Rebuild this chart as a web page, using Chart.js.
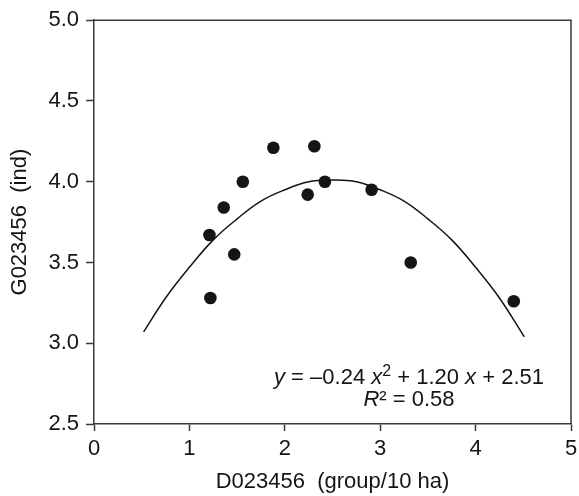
<!DOCTYPE html>
<html>
<head>
<meta charset="utf-8">
<script src="https://cdn.jsdelivr.net/npm/chart.js@4.4.1/dist/chart.umd.min.js"></script>
<style>
  html, body { margin: 0; padding: 0; background: #fff; }
  #wrap { width: 579px; height: 496px; }
</style>
</head>
<body>
<div id="wrap"><canvas id="chart"></canvas></div>
<script>
// observed points
const densityX = [1.88, 1.56, 1.36, 1.21, 1.47, 1.22, 2.24, 2.31, 2.42, 2.91, 3.32, 4.40];
const groupY   = [4.21, 4.00, 3.84, 3.67, 3.55, 3.28, 3.92, 4.22, 4.00, 3.95, 3.50, 3.26];

// fitted curve
const fitX = [0.52, 0.75, 1.00, 1.25, 1.50, 1.75, 2.00, 2.25, 2.50, 2.75, 3.00, 3.25, 3.50, 3.75, 4.00, 4.25, 4.51];
const fitY = [3.07, 3.28, 3.47, 3.64, 3.77, 3.88, 3.95, 4.00, 4.01, 4.00, 3.95, 3.88, 3.77, 3.64, 3.47, 3.28, 3.04];

const xTicks = [0, 1, 2, 3, 4, 5];
const yTicks = [2.5, 3.0, 3.5, 4.0, 4.5, 5.0];

const xTitle = 'D023456  (group/10 ha)';
const yTitle = 'G023456  (ind)';

const fontFamily = "'Liberation Sans', Arial, Helvetica, sans-serif";
const fontSize = 22;
const inkColor = '#151515';
const axisColor = '#3a3a3a';

const toXY = (xs, ys) => xs.map((x, i) => ({ x: x, y: ys[i] }));

// top/right frame + fit equation
const frameAndLabel = {
  id: 'frameAndLabel',
  afterDraw(chart) {
    const { ctx, chartArea: a } = chart;
    ctx.save();
    ctx.strokeStyle = axisColor;
    ctx.lineWidth = 1.5;
    ctx.beginPath();
    ctx.moveTo(a.left, a.top);
    ctx.lineTo(a.right, a.top);
    ctx.lineTo(a.right, a.bottom);
    ctx.stroke();

    const normal = fontSize + 'px ' + fontFamily;
    const italic = 'italic ' + fontSize + 'px ' + fontFamily;
    const small = '16px ' + fontFamily;
    const line1 = [
      { t: 'y', f: italic }, { t: ' = \u20130.24 ', f: normal }, { t: 'x', f: italic },
      { t: '2', f: small, up: 8 }, { t: ' + 1.20 ', f: normal }, { t: 'x', f: italic },
      { t: ' + 2.51', f: normal }
    ];
    const line2 = [{ t: 'R', f: italic }, { t: '\u00b2 = 0.58', f: normal }];

    const cx = a.left + 315;
    ctx.fillStyle = inkColor;
    ctx.textBaseline = 'alphabetic';
    ctx.textAlign = 'left';
    const drawLine = (parts, y) => {
      let w = 0;
      parts.forEach(p => { ctx.font = p.f; w += ctx.measureText(p.t).width; });
      let x = cx - w / 2;
      parts.forEach(p => {
        ctx.font = p.f;
        ctx.fillText(p.t, x, y - (p.up || 0));
        x += ctx.measureText(p.t).width;
      });
    };
    drawLine(line1, a.top + 364);
    drawLine(line2, a.top + 386);
    ctx.restore();
  }
};

new Chart(document.getElementById('chart'), {
  type: 'scatter',
  data: {
    datasets: [
      {
        label: 'observed',
        data: toXY(densityX, groupY),
        pointRadius: 6.3,
        pointHoverRadius: 6.3,
        pointBackgroundColor: inkColor,
        pointBorderWidth: 0,
        showLine: false
      },
      {
        label: 'fit',
        data: toXY(fitX, fitY),
        showLine: true,
        pointRadius: 0,
        borderColor: inkColor,
        borderWidth: 1.5,
        tension: 0.4,
        fill: false
      }
    ]
  },
  options: {
    responsive: true,
    maintainAspectRatio: false,
    animation: false,
    layout: { padding: { top: 17, right: 0, left: 0, bottom: 0 } },
    plugins: { legend: { display: false }, tooltip: { enabled: false } },
    scales: {
      x: {
        type: 'linear',
        min: 0,
        max: 5,
        afterBuildTicks: s => { s.ticks = xTicks.map(v => ({ value: v })); },
        afterFit: s => { s.height = 72; s.paddingRight = 8; s.paddingLeft = 0; },
        grid: { drawOnChartArea: false, drawTicks: true, tickLength: 7, tickColor: axisColor, tickWidth: 1.5 },
        border: { display: true, color: axisColor, width: 1.5 },
        ticks: { color: inkColor, font: { family: fontFamily, size: fontSize }, padding: 5, maxRotation: 0 },
        title: { display: true, text: xTitle, color: inkColor, font: { family: fontFamily, size: fontSize }, padding: { top: 0, bottom: 1 } }
      },
      y: {
        type: 'linear',
        min: 2.5,
        max: 5,
        afterBuildTicks: s => { s.ticks = yTicks.map(v => ({ value: v })); },
        afterFit: s => { s.width = 94; },
        grid: { drawOnChartArea: false, drawTicks: true, tickLength: 8, tickColor: axisColor, tickWidth: 1.5 },
        border: { display: true, color: axisColor, width: 1.5 },
        ticks: { color: inkColor, font: { family: fontFamily, size: fontSize }, padding: 7, callback: v => Number(v).toFixed(1) },
        title: { display: true, text: yTitle, color: inkColor, font: { family: fontFamily, size: fontSize }, padding: { top: 7, bottom: 0 } }
      }
    }
  },
  plugins: [frameAndLabel]
});
</script>
</body>
</html>
